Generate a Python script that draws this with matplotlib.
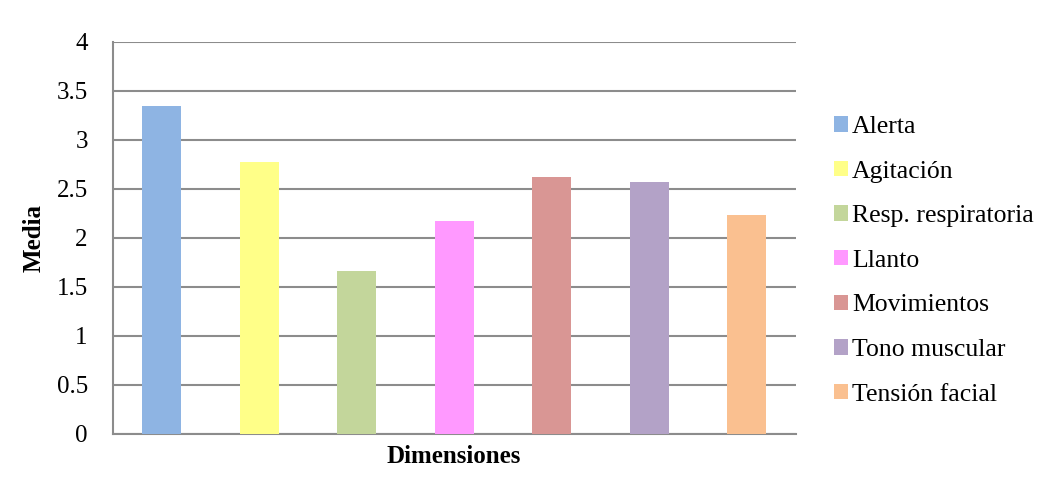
import matplotlib
matplotlib.use('Agg')
import matplotlib.pyplot as plt
from matplotlib.patches import Patch

plt.rcParams['font.family'] = ['Liberation Serif', 'DejaVu Serif']

# datos
dimensiones = ['Alerta', 'Agitación', 'Resp. respiratoria', 'Llanto',
               'Movimientos', 'Tono muscular', 'Tensión facial']
medias = [3.35, 2.77, 1.66, 2.17, 2.62, 2.57, 2.23]
colores = ['#8EB4E3', '#FFFF88', '#C3D69B', '#FF99FF',
           '#D99694', '#B3A2C7', '#FAC090']

fig = plt.figure(figsize=(10.44, 4.87), dpi=100)
ax = fig.add_axes([0.108, 0.109, 0.654, 0.805])

x = range(len(dimensiones))
ax.bar(x, medias, width=0.4, color=colores, zorder=3)

ax.set_xlim(-0.5, len(dimensiones) - 0.5)
ax.set_ylim(0, 4)
ax.set_yticks([0, 0.5, 1, 1.5, 2, 2.5, 3, 3.5, 4])
ax.set_yticklabels(['0', '0.5', '1', '1.5', '2', '2.5', '3', '3.5', '4'], fontsize=18)
ax.set_xticks([])
ax.tick_params(axis='y', length=0, pad=18)

ax.grid(axis='y', color='#8c8c8c', linewidth=1.5, zorder=0)
for s in ['top', 'right']:
    ax.spines[s].set_visible(False)
for s in ['left', 'bottom']:
    ax.spines[s].set_color('#8c8c8c')
    ax.spines[s].set_linewidth(1.5)

ax.set_ylabel('Media', fontsize=18, fontweight='bold', labelpad=8)
ax.set_xlabel('Dimensiones', fontsize=18, fontweight='bold', labelpad=8)

handles = [Patch(facecolor=c, edgecolor='none') for c in colores]
fig.legend(handles, dimensiones, loc='upper left', bbox_to_anchor=(0.789, 0.783),
           frameon=False, fontsize=18.5, handlelength=0.55, handleheight=0.55,
           handletextpad=0.15, labelspacing=0.88, borderaxespad=0)

plt.savefig('out.png', dpi=100)
